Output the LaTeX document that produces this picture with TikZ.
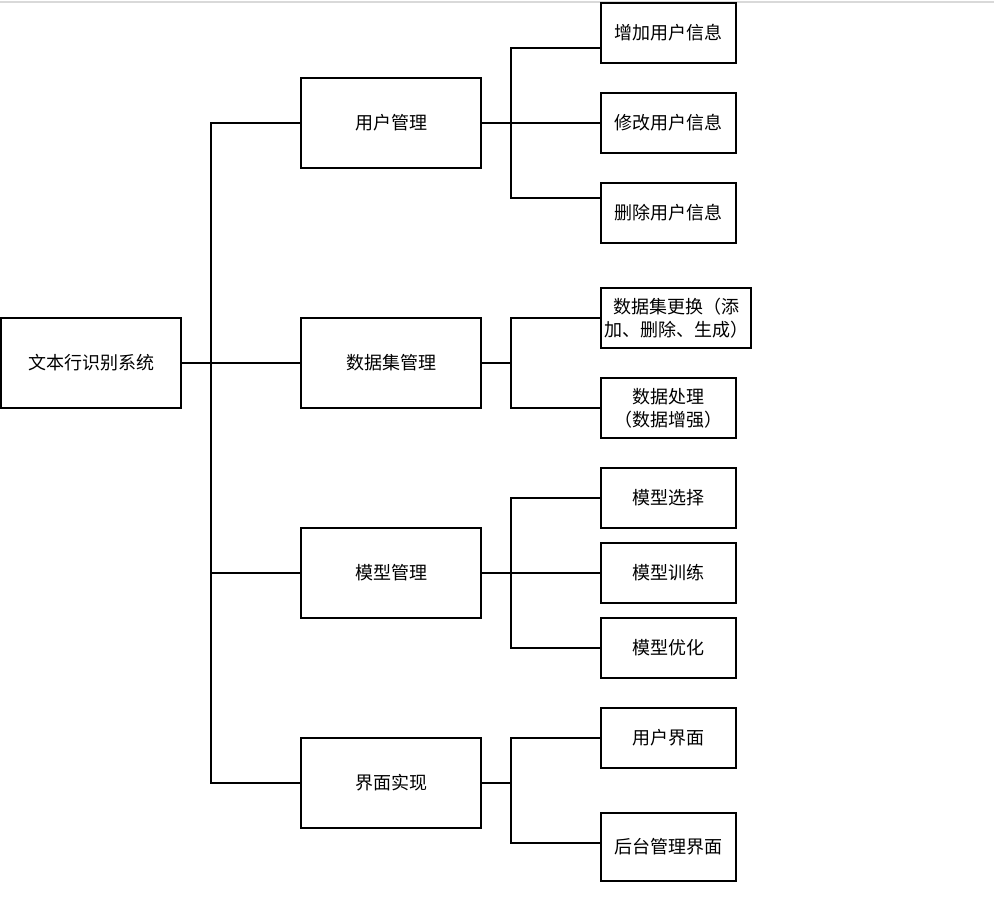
\documentclass[tikz,border=0pt]{standalone}
\usepackage{fontspec}
\newfontfamily\cjk{Noto Sans CJK SC}
\usetikzlibrary{positioning,calc}

\begin{document}
\begin{tikzpicture}[x=0.75pt, y=-0.75pt, every node/.style={align=center}]
    \tikzset{
      sysbox/.style={
        draw,
        align=center,
        inner sep=2pt,
        line width=1.1pt,
        font=\cjk\fontsize{13.5pt}{17pt}\selectfont
      },
      modbox/.style={sysbox, minimum width=135pt, minimum height=67.5pt},
      funcbox/.style={sysbox, minimum width=101.25pt, minimum height=45pt},
      link/.style={line width=1.1pt}
    }
    \useasboundingbox (0,0) rectangle (994,896);
    \draw[gray!30, line width=1pt] (0,2) -- (994,2);

    % root and modules
    \node[modbox] (root) at (91,363) {文本行识别系统};
    \node[modbox] (yhgl) at (391,123) {用户管理};
    \node[modbox] (sjgl) at (391,363) {数据集管理};
    \node[modbox] (mxgl) at (391,573) {模型管理};
    \node[modbox] (jmsx) at (391,783) {界面实现};

    % functions
    \node[funcbox] (add) at (668.5,33) {增加用户信息};
    \node[funcbox] (edit) at (668.5,123) {修改用户信息};
    \node[funcbox] (del) at (668.5,213) {删除用户信息};
    \node[funcbox, minimum width=112.5pt] (dsswap) at (676,318) {数据集更换（添\\加、删除、生成）};
    \node[funcbox] (dsproc) at (668.5,408) {数据处理\\（数据增强）};
    \node[funcbox] (msel) at (668.5,498) {模型选择};
    \node[funcbox] (mtrain) at (668.5,573) {模型训练};
    \node[funcbox] (mopt) at (668.5,648) {模型优化};
    \node[funcbox] (ui) at (668.5,738) {用户界面};
    \node[funcbox, minimum height=51pt] (admin) at (668.5,847) {后台管理界面};

    % trunk
    \coordinate (trunk) at (211,363);
    \draw[link] (root) -- (sjgl);
    \draw[link] (yhgl.west) -| (trunk) |- (jmsx.west);
    \draw[link] (trunk |- mxgl.west) -- (mxgl.west);

    % branches
    \coordinate (bus1) at (511,123);
    \coordinate (bus2) at (511,363);
    \coordinate (bus3) at (511,573);
    \coordinate (bus4) at (511,783);
    \draw[link] (yhgl.east) -- (edit.west);
    \draw[link] ([yshift=-11.25pt]add.west) -| (bus1) |- ([yshift=11.25pt]del.west);
    \draw[link] (sjgl.east) -- (bus2);
    \draw[link] (dsswap.west) -| (bus2) |- (dsproc.west);
    \draw[link] (mxgl.east) -- (mtrain.west);
    \draw[link] (msel.west) -| (bus3) |- (mopt.west);
    \draw[link] (jmsx.east) -- (bus4);
    \draw[link] (ui.west) -| (bus4) |- ([yshift=3pt]admin.west);
  \end{tikzpicture}
\end{document}
